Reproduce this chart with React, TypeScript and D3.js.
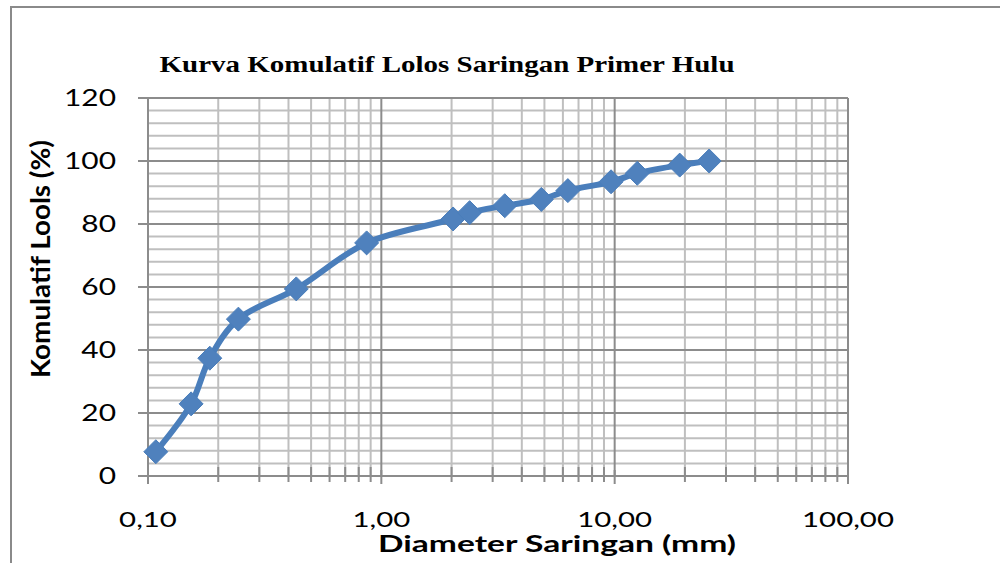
import React from "react";
import * as d3 from "d3";

const diameters = [0.108, 0.153, 0.184, 0.244, 0.432, 0.865, 2.03, 2.39, 3.38, 4.85, 6.3, 9.65, 12.5, 19.0, 25.4];
const passing = [7.7, 22.9, 37.4, 49.8, 59.4, 74.0, 81.6, 83.6, 85.8, 87.8, 90.6, 93.4, 96.1, 98.7, 100.0];
const yTicks = [0, 20, 40, 60, 80, 100, 120];
const xTickValues = [0.1, 1, 10, 100];
const xTickLabels = ["0,10", "1,00", "10,00", "100,00"];
const titleText = "Kurva Komulatif Lolos Saringan Primer Hulu";
const xLabel = "Diameter Saringan  (mm)";
const yLabel = "Komulatif Lools (%)";

const W = 1000, H = 563;
const L = 148, R = 848, T = 98, B = 476;
const BLUE = "#4A7EBB";

export default function App() {
  const x = d3.scaleLog().domain([0.1, 100]).range([L, R]);
  const y = d3.scaleLinear().domain([0, 120]).range([B, T]);

  const minorX: number[] = [];
  for (const dec of [0.1, 1, 10]) for (let k = 2; k <= 9; k++) minorX.push(dec * k);
  const minorY = d3.range(0, 121, 4).filter((v) => v % 20 !== 0);

  const pts: [number, number][] = diameters.map((d, i) => [x(d), y(passing[i])]);
  const line = d3.line().curve(d3.curveCatmullRom.alpha(0.5))(pts) || "";
  const s = 12;
  const diamond = `M0,${-s}L${s},0L0,${s}L${-s},0Z`;

  return (
    <svg width={W} height={H} style={{ position: "absolute", left: 0, top: 0, background: "#fff" }}>
      <rect x={11} y={7} width={1100} height={700} fill="#fff" stroke="#8a8a8a" strokeWidth={2} />
      <text x={447} y={72} textAnchor="middle" fontFamily="'Liberation Serif', serif" fontWeight="bold" fontSize={23}
        textLength={575} lengthAdjust="spacingAndGlyphs">{titleText}</text>
      {/* minor gridlines */}
      {minorY.map((v) => (
        <line key={"my" + v} x1={L} x2={R} y1={y(v)} y2={y(v)} stroke="#bfbfbf" strokeWidth={2} />
      ))}
      {minorX.map((v) => (
        <line key={"mx" + v} x1={x(v)} x2={x(v)} y1={T} y2={B} stroke="#bfbfbf" strokeWidth={2} />
      ))}
      {/* major gridlines */}
      {yTicks.map((v) => (
        <line key={"Y" + v} x1={L} x2={R} y1={y(v)} y2={y(v)} stroke="#8c8c8c" strokeWidth={2} />
      ))}
      {xTickValues.map((v) => (
        <line key={"X" + v} x1={x(v)} x2={x(v)} y1={T} y2={B} stroke="#8c8c8c" strokeWidth={2} />
      ))}
      {/* ticks */}
      {yTicks.map((v) => (
        <line key={"yt" + v} x1={L - 10} x2={L} y1={y(v)} y2={y(v)} stroke="#8c8c8c" strokeWidth={2} />
      ))}
      {minorX.map((v) => (
        <line key={"xt" + v} x1={x(v)} x2={x(v)} y1={B - 9} y2={B + 6} stroke="#8c8c8c" strokeWidth={2} />
      ))}
      {xTickValues.map((v) => (
        <line key={"xT" + v} x1={x(v)} x2={x(v)} y1={B - 6} y2={B + 8} stroke="#8c8c8c" strokeWidth={2} />
      ))}
      {/* tick labels */}
      {yTicks.map((v) => (
        <g key={"yl" + v} transform={`translate(116,${y(v) + 8}) scale(1.3,1)`}>
          <text textAnchor="end" fontFamily="Lato, sans-serif" fontSize={23} fill="#000">{v}</text>
        </g>
      ))}
      {xTickValues.map((v, i) => (
        <g key={"xl" + v} transform={`translate(${x(v)},527) scale(1.4,1)`}>
          <text textAnchor="middle" fontFamily="Lato, sans-serif" fontSize={21} fill="#000">{xTickLabels[i]}</text>
        </g>
      ))}
      {/* axis labels */}
      <text x={557} y={552} textAnchor="middle" fontFamily="Lato, sans-serif" fontWeight="bold" fontSize={22}
        textLength={358} lengthAdjust="spacingAndGlyphs">{xLabel}</text>
      <text transform="translate(50,259) rotate(-90)" textAnchor="middle" fontFamily="Lato, sans-serif" fontWeight="bold"
        fontSize={26} textLength={238} lengthAdjust="spacingAndGlyphs">{yLabel}</text>
      {/* series */}
      <path d={line} fill="none" stroke={BLUE} strokeWidth={6} strokeLinejoin="round" strokeLinecap="round" />
      {pts.map(([px, py], i) => (
        <path key={"m" + i} d={diamond} transform={`translate(${px},${py})`} fill="#4F81BD" stroke={BLUE} strokeWidth={1} />
      ))}
    </svg>
  );
}
